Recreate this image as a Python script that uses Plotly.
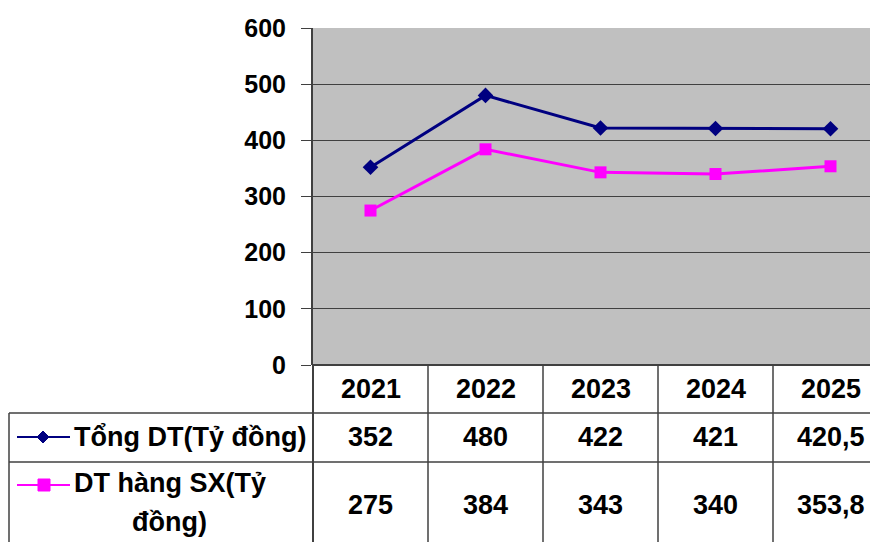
import plotly.graph_objects as go

years = ["2021", "2022", "2023", "2024", "2025"]
tong_dt = [352, 480, 422, 421, 420.5]
dt_sx = [275, 384, 343, 340, 353.8]
y_ticks = [0, 100, 200, 300, 400, 500, 600]
label_tong = "Tổng DT(Tỷ đồng)"
label_sx_1 = "DT hàng SX(Tỷ"
label_sx_2 = "đồng)"

OFF = 8  # page body margin
W, H = 878 - 2 * OFF, 542 - OFF
L, T = 313 - OFF, 28 - OFF
B = H - (365 - OFF)
PW = W - L
PH = H - T - B
CAT_W = 115.0

def px(X):
    return (X - OFF - L) / PW

def py(Y):
    return (H - B - (Y - OFF)) / PH

def fmt(v):
    if float(v).is_integer():
        return str(int(v))
    return str(v).replace(".", ",")

FONT = "Liberation Sans"
NAVY = "#000080"
MAG = "#FF00FF"
LINEC = "#404040"

fig = go.Figure()
fig.add_trace(go.Scatter(x=years, y=tong_dt, mode="lines+markers",
                         line=dict(color=NAVY, width=3),
                         marker=dict(symbol="diamond", size=12, color=NAVY),
                         name=label_tong, cliponaxis=False))
fig.add_trace(go.Scatter(x=years, y=dt_sx, mode="lines+markers",
                         line=dict(color=MAG, width=3),
                         marker=dict(symbol="square", size=12, color=MAG),
                         name=label_sx_1 + " " + label_sx_2, cliponaxis=False))

shapes = []
annotations = []

bold = dict(family=FONT, size=27, color="black")

def cell(i, Y, text):
    annotations.append(dict(x=i, xref="x", y=py(Y), yref="paper", text="<b>%s</b>" % text,
                            showarrow=False, font=bold, xanchor="center", yanchor="middle"))

for i, yr in enumerate(years):
    cell(i, 389, yr)
for i, v in enumerate(tong_dt):
    cell(i, 437, fmt(v))
for i, v in enumerate(dt_sx):
    cell(i, 505, fmt(v))

# row labels
annotations.append(dict(x=px(190), xref="paper", y=py(437), yref="paper", text="<b>%s</b>" % label_tong,
                        showarrow=False, font=bold, xanchor="center", yanchor="middle"))
annotations.append(dict(x=px(170), xref="paper", y=py(483), yref="paper", text="<b>%s</b>" % label_sx_1,
                        showarrow=False, font=bold, xanchor="center", yanchor="middle"))
annotations.append(dict(x=px(169), xref="paper", y=py(522), yref="paper", text="<b>%s</b>" % label_sx_2,
                        showarrow=False, font=bold, xanchor="center", yanchor="middle"))

# legend samples
shapes.append(dict(type="line", xref="paper", yref="paper", x0=px(17), x1=px(70), y0=py(437), y1=py(437),
                   line=dict(color=NAVY, width=2)))
shapes.append(dict(type="path", xref="paper", yref="paper", xsizemode="pixel", ysizemode="pixel",
                   xanchor=px(43), yanchor=py(437), path="M 0,6 L 6,0 L 0,-6 L -6,0 Z",
                   fillcolor=NAVY, line=dict(color=NAVY, width=1)))
shapes.append(dict(type="line", xref="paper", yref="paper", x0=px(17), x1=px(70), y0=py(485), y1=py(485),
                   line=dict(color=MAG, width=2)))
shapes.append(dict(type="path", xref="paper", yref="paper", xsizemode="pixel", ysizemode="pixel",
                   xanchor=px(44), yanchor=py(485), path="M -6,-6 L 6,-6 L 6,6 L -6,6 Z",
                   fillcolor=MAG, line=dict(color=MAG, width=1)))

# table grid
for Y in (413, 462):
    shapes.append(dict(type="line", xref="paper", yref="paper", x0=px(9), x1=px(900), y0=py(Y), y1=py(Y),
                       line=dict(color=LINEC, width=1.5)))
shapes.append(dict(type="line", xref="paper", yref="paper", x0=px(9), x1=px(9), y0=py(413), y1=py(560),
                   line=dict(color=LINEC, width=1.5)))
shapes.append(dict(type="line", xref="paper", yref="paper", x0=0, x1=0, y0=0, y1=py(560),
                   line=dict(color=LINEC, width=2)))
for i in range(len(years) - 1):
    shapes.append(dict(type="line", xref="x", yref="paper", x0=i + 0.5, x1=i + 0.5, y0=0, y1=py(560),
                       line=dict(color=LINEC, width=1.5)))
shapes.append(dict(type="line", xref="paper", yref="paper", x0=0, x1=1, y0=0, y1=0,
                   line=dict(color=LINEC, width=2)))

fig.update_layout(
    width=W, height=H,
    margin=dict(l=L, r=0, t=T, b=B, pad=0),
    paper_bgcolor="white",
    plot_bgcolor="#C0C0C0",
    showlegend=False,
    shapes=shapes,
    annotations=annotations,
    xaxis=dict(type="category", range=[-0.5, -0.5 + PW / CAT_W], showticklabels=False,
               showgrid=False, zeroline=False, ticks="", showline=False, fixedrange=True),
    yaxis=dict(range=[0, 600], tickvals=y_ticks, ticktext=["<b>%d</b>" % v for v in y_ticks],
               tickfont=dict(family=FONT, size=25, color="black"),
               showgrid=True, gridcolor=LINEC, gridwidth=1, zeroline=False,
               showline=True, linecolor=LINEC, linewidth=2,
               ticks="outside", ticklen=10, tickcolor=LINEC, tickwidth=1,
               ticklabelstandoff=10, fixedrange=True),
)

fig.write_html("out.html")
